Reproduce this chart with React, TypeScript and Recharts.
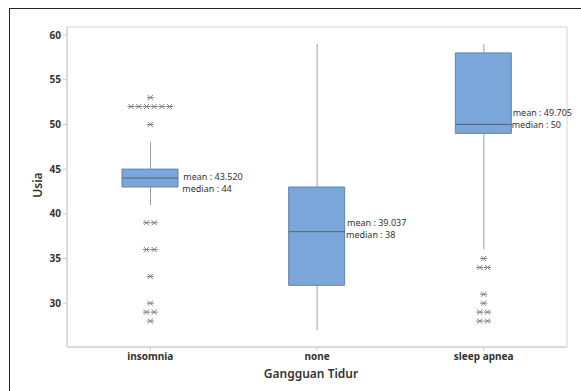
import React from 'react';
import { ComposedChart, Bar, Scatter, XAxis, YAxis, ReferenceArea } from 'recharts';

const CATEGORIES = ['insomnia', 'none', 'sleep apnea'];
const Q1 = [43, 32, 49];
const Q3 = [45, 43, 58];
const MEDIAN = [44, 38, 50];
const MEAN = [43.52, 39.037, 49.705];
const WHISKER_LOW = [41, 27, 36];
const WHISKER_HIGH = [48, 59, 59];

// [value, how many points share it]
const OUTLIERS_INSOMNIA = [[53, 1], [52, 6], [50, 1], [39, 2], [36, 2], [33, 1], [30, 1], [29, 2], [28, 1]];
const OUTLIERS_NONE: number[][] = [];
const OUTLIERS_SLEEP_APNEA = [[35, 1], [34, 2], [31, 1], [30, 1], [29, 2], [28, 2]];

const Y_TICKS = [30, 35, 40, 45, 50, 55, 60];

// where the mean/median note sits relative to the mean point
const NOTE_SHIFT = [
  { dx: 33, dy: 0 },
  { dx: 30, dy: 6 },
  { dx: 29, dy: -9 },
];

const BOX_W = 56;
const FONT = '"Noto Sans", "Open Sans", sans-serif';

const data = CATEGORIES.map((name, i) => ({
  name,
  box: [Q1[i], Q3[i]],
  whisker: [WHISKER_LOW[i], WHISKER_HIGH[i]],
  median: MEDIAN[i],
  mean: MEAN[i],
  idx: i,
}));

const outlierData = [
  ...OUTLIERS_INSOMNIA.map(([v, n]) => ({ name: CATEGORIES[0], v, n })),
  ...OUTLIERS_NONE.map(([v, n]) => ({ name: CATEGORIES[1], v, n })),
  ...OUTLIERS_SLEEP_APNEA.map(([v, n]) => ({ name: CATEGORIES[2], v, n })),
];

// minitab-ish asterisk: an X crossed by a horizontal bar
const Asterisk = ({ cx, cy, r = 3.6 }: any) => {
  const d = r * 0.72;
  return (
    <g stroke="#808080" strokeWidth={1}>
      <line x1={cx - r} y1={cy} x2={cx + r} y2={cy} />
      <line x1={cx - d} y1={cy - d} x2={cx + d} y2={cy + d} />
      <line x1={cx - d} y1={cy + d} x2={cx + d} y2={cy - d} />
    </g>
  );
};

const OutlierShape = (props: any) => {
  const { cx, cy, payload } = props;
  const n = payload.n;
  const gap = 7.7;
  const start = cx - ((n - 1) * gap) / 2;
  return (
    <g>
      {Array.from({ length: n }).map((_, k) => (
        <Asterisk key={k} cx={start + k * gap} cy={cy} />
      ))}
    </g>
  );
};

const MedianShape = ({ cx, cy }: any) => (
  <line x1={cx - BOX_W / 2} y1={cy} x2={cx + BOX_W / 2} y2={cy} stroke="#52647c" strokeWidth={1} />
);

const NoteShape = ({ cx, cy, payload }: any) => {
  const s = NOTE_SHIFT[payload.idx];
  const x = cx + s.dx;
  const y = cy + s.dy;
  return (
    <g fontFamily={FONT} fontSize={9} fill="#333">
      <text x={x} y={y - 5.5} dominantBaseline="central">{`mean : ${payload.mean.toFixed(3)}`}</text>
      <text x={x - 1} y={y + 6} dominantBaseline="central">{`median : ${payload.median}`}</text>
    </g>
  );
};

export default function App() {
  return (
    <div style={{ position: 'absolute', left: 0, top: 0, width: 581, height: 391, background: '#fff', overflow: 'hidden' }}>
      <div
        style={{
          position: 'absolute',
          left: 9,
          top: 8,
          width: 600,
          height: 400,
          borderLeft: '1.5px solid #222',
          borderTop: '1.5px solid #222',
        }}
      />
      <ComposedChart
        width={581}
        height={391}
        data={data}
        margin={{ top: 27, right: 14, bottom: 0, left: 0 }}
        style={{ position: 'absolute', left: 0, top: 0 }}
      >
        <XAxis
          dataKey="name"
          type="category"
          allowDuplicatedCategory={false}
          height={44}
          tickLine={{ stroke: '#ccc' }}
          tickSize={4}
          axisLine={{ stroke: '#ccc' }}
          tick={{ fontFamily: FONT, fontSize: 10, fontWeight: 700, fill: '#333' }}
          label={{
            content: () => (
              <text x={311} y={373} textAnchor="middle" dominantBaseline="central" fontFamily={FONT} fontSize={12} fontWeight={600} fill="#333">
                Gangguan Tidur
              </text>
            ),
          }}
        />
        <XAxis xAxisId="w" dataKey="name" type="category" hide />
        <YAxis
          type="number"
          domain={[25.1, 60.9]}
          ticks={Y_TICKS}
          allowDataOverflow
          width={67}
          tickLine={{ stroke: '#ccc' }}
          tickSize={4}
          axisLine={{ stroke: '#ccc' }}
          tick={{ fontFamily: FONT, fontSize: 10, fontWeight: 700, fill: '#333' }}
          label={{
            content: () => (
              <text x={37} y={185} transform="rotate(-90 37 185)" textAnchor="middle" dominantBaseline="central" fontFamily={FONT} fontSize={12} fontWeight={600} fill="#333">
                Usia
              </text>
            ),
          }}
        />
        <ReferenceArea y1={25.1} y2={60.9} fill="none" stroke="#d4d4d4" strokeWidth={1} ifOverflow="extendDomain" />
        <Bar xAxisId="w" dataKey="whisker" barSize={1} fill="#a0a0a0" isAnimationActive={false} />
        <Bar dataKey="box" barSize={BOX_W} fill="#7ba6da" stroke="#6282ab" strokeWidth={1} isAnimationActive={false} />
        <Scatter dataKey="median" shape={<MedianShape />} isAnimationActive={false} />
        <Scatter dataKey="mean" shape={<NoteShape />} isAnimationActive={false} />
        <Scatter data={outlierData} dataKey="v" shape={<OutlierShape />} isAnimationActive={false} />
      </ComposedChart>
    </div>
  );
}
